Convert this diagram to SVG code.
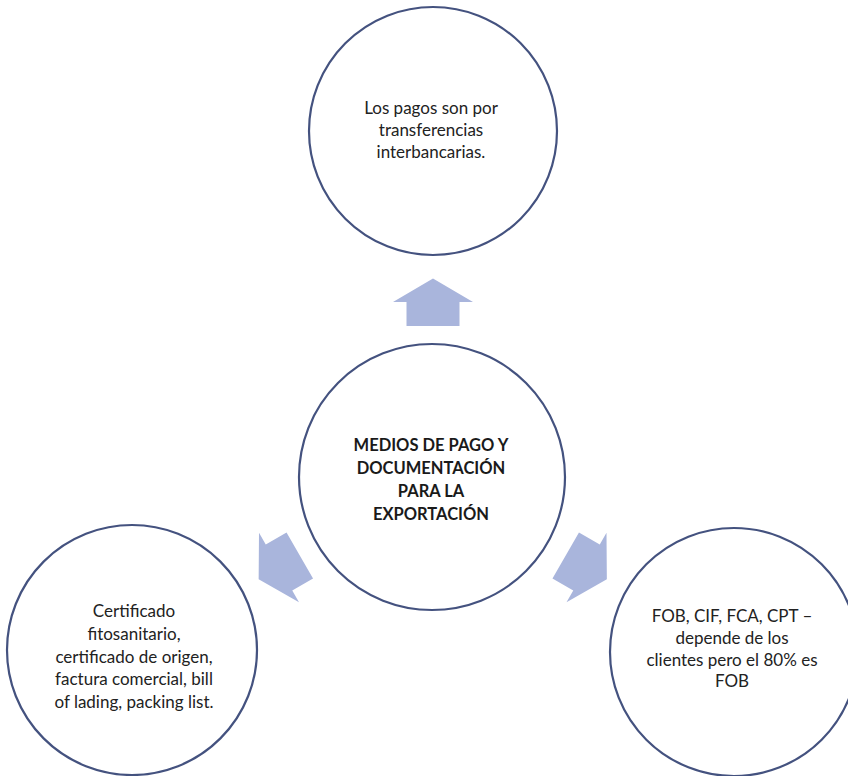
<svg xmlns="http://www.w3.org/2000/svg" width="848" height="776" viewBox="0 0 848 776">
  <style>
    .ring { fill: #ffffff; stroke: #44527f; stroke-width: 2.2; }
    .arrow { fill: #a9b5dc; }
    .lbl { font-family: Lato, "Open Sans", "Liberation Sans", sans-serif; font-size: 17px; fill: #222222; text-anchor: middle; }
    .hub { font-family: Lato, "Open Sans", "Liberation Sans", sans-serif; font-size: 16.5px; font-weight: bold; fill: #1a1a1a; text-anchor: middle; }
  </style>
  <defs>
    <!-- block arrow pointing up, origin at the base of the head -->
    <polygon id="blockArrow" points="0,-23.5 40,0 26.5,0 26.5,24 -26.5,24 -26.5,0 -40,0"/>
  </defs>
  <rect width="848" height="776" fill="#ffffff"/>

  <g id="connectors">
    <use href="#blockArrow" class="arrow" transform="translate(433,302)"/>
    <use href="#blockArrow" class="arrow" transform="translate(279,567.5) rotate(240)"/>
    <use href="#blockArrow" class="arrow" transform="translate(586.5,567.5) rotate(120)"/>
  </g>

  <g id="hub">
    <circle class="ring" cx="432" cy="477" r="133"/>
    <text class="hub" x="431" y="451">MEDIOS DE PAGO Y</text>
    <text class="hub" x="431" y="474">DOCUMENTACIÓN</text>
    <text class="hub" x="431" y="497">PARA LA</text>
    <text class="hub" x="431" y="520">EXPORTACIÓN</text>
  </g>

  <g id="pagos">
    <circle class="ring" cx="433" cy="131" r="124"/>
    <text class="lbl" x="431" y="114">Los pagos son por</text>
    <text class="lbl" x="431" y="136">transferencias</text>
    <text class="lbl" x="431" y="158">interbancarias.</text>
  </g>

  <g id="documentos">
    <circle class="ring" cx="132" cy="650" r="125"/>
    <text class="lbl" x="134" y="617">Certificado</text>
    <text class="lbl" x="134" y="640">fitosanitario,</text>
    <text class="lbl" x="134" y="663">certificado de origen,</text>
    <text class="lbl" x="134" y="685">factura comercial, bill</text>
    <text class="lbl" x="134" y="708">of lading, packing list.</text>
  </g>

  <g id="incoterms">
    <circle class="ring" cx="734" cy="652" r="124"/>
    <text class="lbl" x="732" y="622">FOB, CIF, FCA, CPT –</text>
    <text class="lbl" x="732" y="644">depende de los</text>
    <text class="lbl" x="732" y="666">clientes pero el 80% es</text>
    <text class="lbl" x="732" y="687">FOB</text>
  </g>
</svg>
